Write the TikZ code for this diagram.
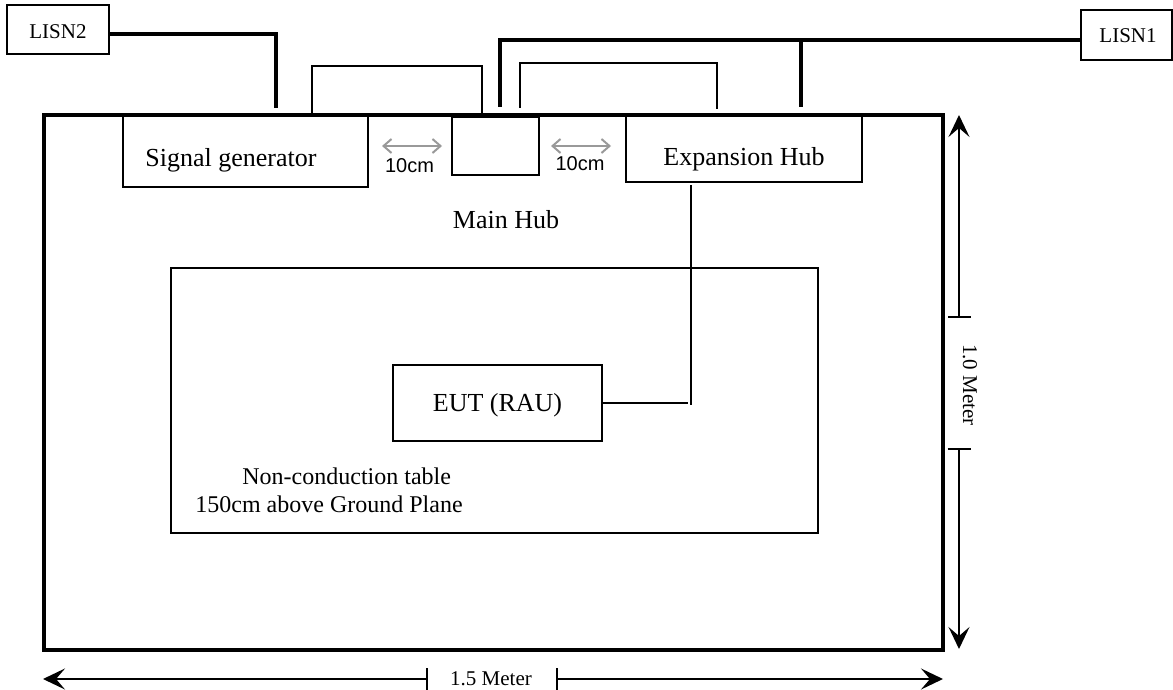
\documentclass[tikz,border=0pt]{standalone}
\usepackage{fontspec}
\setmainfont{Liberation Serif}
\newfontfamily\arialfont{Liberation Sans}
\usetikzlibrary{arrows.meta}

\begin{document}
\begin{tikzpicture}[x=0.5pt,y=-0.5pt,>={Stealth[length=11pt,width=10.5pt,inset=4.5pt]},
  box/.style={draw,line width=1pt,inner sep=0pt},
  thickcable/.style={line width=1.8pt},
  cable/.style={line width=1pt},
  dimline/.style={line width=0.9pt},
  gaparrow/.style={black!40,line width=1pt,
    {Straight Barb[length=4pt,width=7pt]}-{Straight Barb[length=4pt,width=7pt]}},
  lbl/.style={inner sep=0pt,anchor=base,font=\fontsize{13}{15}\selectfont},
  smalllbl/.style={inner sep=0pt,anchor=base,font=\fontsize{10.5}{12}\selectfont}]
  \useasboundingbox (0,0) rectangle (1173,690);

  % ground plane and the table on it
  \node[box,line width=1.7pt,minimum width=449.5pt,minimum height=267.5pt] (gp) at (493.5,382.5) {};
  \node[box,line width=1.1pt,minimum width=323.5pt,minimum height=132.5pt] (table) at (494.5,400.5) {};

  % equipment
  \node[box,minimum width=122.5pt,minimum height=35.5pt] (sg) at (245.5,151.5) {};
  \node[box,minimum width=43.5pt,minimum height=29pt] (mh) at (495.5,146) {};
  \node[box,minimum width=118pt,minimum height=33.5pt] (eh) at (744,148.5) {};
  \node[box,minimum width=104.5pt,minimum height=38pt] (eut) at (497.5,403) {};
  \node[box,minimum width=51pt,minimum height=24.5pt] (lisn2) at (58,29.5) {};
  \node[box,minimum width=45.5pt,minimum height=25pt] (lisn1) at (1126.5,35) {};

  \node[lbl,anchor=base west] (sgtext) at (145,167) {Signal generator};
  \node[lbl] (ehtext) at (744,165) {Expansion Hub};
  \node[lbl] (mhtext) at (506,228) {Main Hub};
  \node[lbl] (euttext) at (497.5,411) {EUT (RAU)};
  \node[lbl,anchor=base west,font=\fontsize{12}{14}\selectfont] (tabtext1) at (242,484) {Non-conduction table};
  \node[lbl,anchor=base west,font=\fontsize{12}{14}\selectfont] (tabtext2) at (195,512) {150cm above Ground Plane};
  \node[smalllbl] (l2text) at (58,39) {LISN2};
  \node[smalllbl] (l1text) at (1128,43) {LISN1};

  % power lines from the LISNs
  \coordinate (l2bend) at (276,34);
  \coordinate (l2drop) at (276,108);
  \draw[thickcable] (lisn2.east |- l2bend) -| (l2drop);
  \coordinate (l1drop) at (500,107);
  \coordinate (l1bus) at (801,40);
  \draw[thickcable] (l1drop) |- (lisn1.west |- l1bus);
  \draw[thickcable] (l1bus) -- (l1bus |- l1drop);

  % signal cables
  \coordinate (sgport) at (312,115);
  \coordinate (mhport) at (482,113);
  \coordinate (mhport2) at (520,108);
  \coordinate (ehport) at (717,109);
  \draw[cable] (sgport) -- ++(0,-49) -| (mhport);
  \draw[cable] (mhport2) -- ++(0,-45) -| (ehport);
  \coordinate (ehout) at (691,185);
  \coordinate (eutbend) at (691,405);
  \draw[cable] (ehout) -- (eutbend);
  \draw[cable] (eut.east) -- ([xshift=-1.5pt]eut.east -| eutbend);

  % 10cm spacings
  \draw[gaparrow] ([xshift=6.5pt]sg.east |- mh.center) -- ([xshift=-4.5pt]mh.west);
  \draw[gaparrow] ([xshift=5.5pt]mh.east) -- ([xshift=-7pt]eh.west |- mh.east);
  \node[inner sep=0pt,anchor=base,font=\arialfont\fontsize{10}{12}\selectfont] (gap1) at (409.5,172) {10cm};
  \node[inner sep=0pt,anchor=base,font=\arialfont\fontsize{10}{12}\selectfont] (gap2) at (580,170) {10cm};

  % dimensions of the ground plane
  \coordinate (vtop) at (959,115);
  \coordinate (vbot) at (959,649);
  \coordinate (vbar1) at (959,318);
  \coordinate (vbar2) at (959,448);
  \draw[dimline,{Bar[width=11.5pt]}->] (vbar1) -- (vtop);
  \draw[dimline,{Bar[width=11.5pt]}->] (vbar2) -- (vbot);
  \node[smalllbl,anchor=center,rotate=-90] (vtext) at (970,385) {1.0 Meter};

  \coordinate (hleft) at (43,679);
  \coordinate (hright) at (943,679);
  \coordinate (hbar1) at (428,679);
  \coordinate (hbar2) at (556,679);
  \draw[dimline,{Bar[width=11pt]}->] (hbar1) -- (hleft);
  \draw[dimline,{Bar[width=11pt]}->] (hbar2) -- (hright);
  \node[smalllbl] (htext) at (491,685) {1.5 Meter};
\end{tikzpicture}
\end{document}
